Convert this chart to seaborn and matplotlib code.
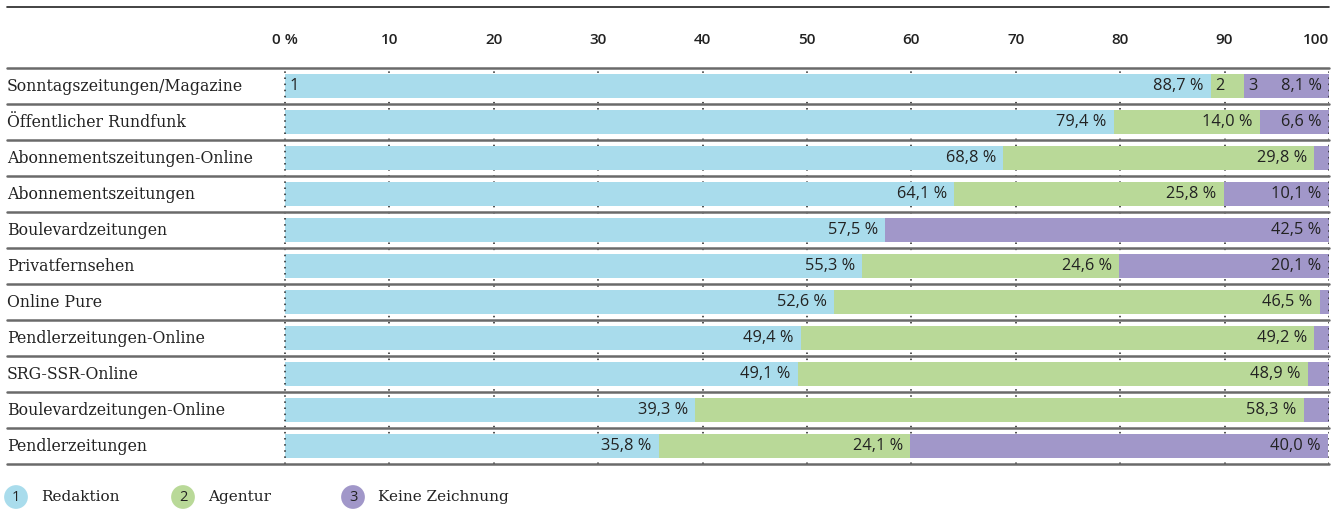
import pandas as pd
import matplotlib.pyplot as plt
import seaborn as sns
from matplotlib.lines import Line2D

# Data
categories = ["Sonntagszeitungen/Magazine", "Öffentlicher Rundfunk", "Abonnementszeitungen-Online",
              "Abonnementszeitungen", "Boulevardzeitungen", "Privatfernsehen", "Online Pure",
              "Pendlerzeitungen-Online", "SRG-SSR-Online", "Boulevardzeitungen-Online", "Pendlerzeitungen"]
redaktion = [88.7, 79.4, 68.8, 64.1, 57.5, 55.3, 52.6, 49.4, 49.1, 39.3, 35.8]
agentur = [3.2, 14.0, 29.8, 25.8, 0.0, 24.6, 46.5, 49.2, 48.9, 58.3, 24.1]
keine = [8.1, 6.6, 1.4, 10.1, 42.5, 20.1, 0.9, 1.4, 2.0, 2.4, 40.0]
series_names = ["Redaktion", "Agentur", "Keine Zeichnung"]
xticks = [0, 10, 20, 30, 40, 50, 60, 70, 80, 90, 100]
xtick_labels = ["0 %", "10", "20", "30", "40", "50", "60", "70", "80", "90", "100"]

colors = ["#a9dcec", "#b9d998", "#a197c9"]
sans = "Open Sans"
serif = "DejaVu Serif"

df = pd.DataFrame({"Medium": categories, "Redaktion": redaktion,
                   "Agentur": agentur, "Keine": keine})
df["cum1"] = df["Redaktion"]
df["cum2"] = df["Redaktion"] + df["Agentur"]
df["cum3"] = df["cum2"] + df["Keine"]

sns.set_style("white")
fig = plt.figure(figsize=(13.35, 5.11), dpi=100)
ax = fig.add_axes([284 / 1335, 1 - 464 / 511, 1045 / 1335, 396 / 511])

# stacked bars: draw cumulative totals back to front
for col, c in [("cum3", colors[2]), ("cum2", colors[1]), ("cum1", colors[0])]:
    sns.barplot(data=df, x=col, y="Medium", color=c, orient="h", width=0.65,
                saturation=1, linewidth=0, ax=ax, zorder=2)

ax.set_xlim(-0.1, 100)
ax.set_ylim(len(categories) - 0.5, -0.5)
for s in ax.spines.values():
    s.set_visible(False)
ax.set_xlabel("")
ax.set_ylabel("")
ax.set_yticks([])

# dotted vertical grid
for t in xticks:
    ax.axvline(t, color="#222222", linestyle=(0, (1, 3)), lw=1.1, zorder=3 if t in (0, 100) else 1)

# top tick labels
ax.xaxis.tick_top()
ax.set_xticks(xticks)
ax.set_xticklabels(xtick_labels, fontsize=11, family=sans, fontweight="semibold", color="#222222")
ax.tick_params(axis="x", length=0, pad=15)
ax.get_xticklabels()[-1].set_ha("right")

# row separators and labels
ytr = ax.get_yaxis_transform()
x0 = (7 - 284) / 1045
for i in range(len(categories) + 1):
    ax.plot([x0, 1], [i - 0.5, i - 0.5], transform=ytr, color="#6a6a6a", lw=1.8,
            clip_on=False, zorder=3)
for i, name in enumerate(categories):
    ax.text(x0, i, name, transform=ytr, ha="left", va="center", fontsize=11.3,
            family=serif, color="#222222")


def fmt(v):
    return f"{v:.1f}".replace(".", ",") + " %"


# value labels
for i in range(len(categories)):
    ends = [df["cum1"][i], df["cum2"][i], df["cum3"][i]]
    vals = [redaktion[i], agentur[i], keine[i]]
    for j in range(3):
        if vals[j] > 5:
            ax.text(min(ends[j], 100) - 0.7, i, fmt(vals[j]), ha="right", va="center",
                    fontsize=11.8, family=sans, color="#222222", zorder=4)

# segment numbers in first row
starts = [0, df["cum1"][0], df["cum2"][0]]
for j in range(3):
    ax.text(starts[j] + 0.4, 0, str(j + 1), ha="left", va="center", fontsize=11.8,
            family=sans, color="#222222", zorder=4)

# top rule
fig.add_artist(Line2D([7 / 1335, 1329 / 1335], [1 - 7 / 511, 1 - 7 / 511],
                      transform=fig.transFigure, color="#222222", lw=1.2))

# legend
legend_x = [16, 183, 353]
for j, name in enumerate(series_names):
    fig.text(legend_x[j] / 1335, 1 - 497 / 511, str(j + 1), ha="center", va="center",
             fontsize=10.5, family=sans, color="#222222",
             bbox=dict(boxstyle="circle,pad=0.3", fc=colors[j], ec="none"))
    fig.text((legend_x[j] + 25) / 1335, 1 - 497 / 511, name, ha="left", va="center",
             fontsize=11, family=serif, color="#222222")

fig.savefig("out.png", dpi=100)
